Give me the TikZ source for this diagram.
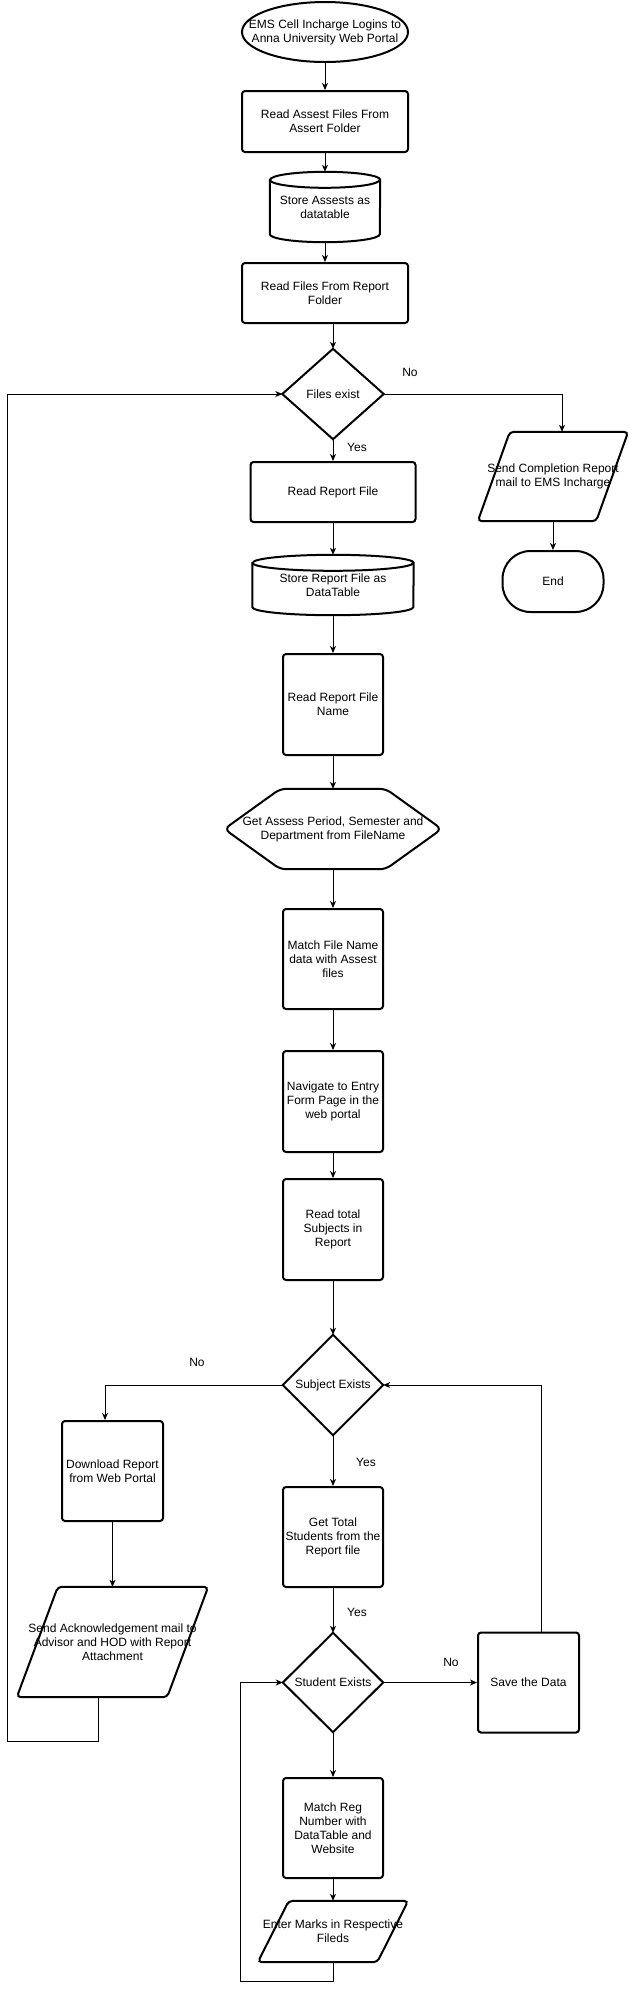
\documentclass[tikz,border=0pt]{standalone}
\usepackage{fontspec}
\setmainfont{Liberation Sans}
\usetikzlibrary{arrows.meta}
\pgfdeclarelayer{bg}
\pgfsetlayers{bg,main}
\newcommand\cylshape[2]{%
  \draw[shapeline] ([yshift=-8pt]#1.north west) -- ([yshift=8pt]#1.south west)
    arc[start angle=180, end angle=360, x radius=#2pt, y radius=8pt]
    -- ([yshift=-8pt]#1.north east)
    arc[start angle=0, end angle=180, x radius=#2pt, y radius=8pt] -- cycle;
  \draw[shapeline] ([yshift=-8pt]#1.north west)
    arc[start angle=180, end angle=360, x radius=#2pt, y radius=8pt];}
\newcommand\parashape[2]{%
  \draw[shapeline, rounded corners=4pt] ([xshift=#2pt]#1.north west) -- (#1.north east)
    -- ([xshift=-#2pt]#1.south east) -- (#1.south west) -- cycle;}
\newcommand\diashape[1]{%
  \draw[shapeline] (#1.north) -- (#1.east) -- (#1.south) -- (#1.west) -- cycle;}
\begin{document}
\begin{tikzpicture}[x=1pt,y=1pt,
  every node/.style={font=\fontsize{12}{14}\selectfont, align=center, inner sep=0pt, text=black},
  sz/.style 2 args={minimum width=#1pt, minimum height=#2pt},
  box/.style={draw, line width=2pt, rounded corners=3pt},
  shapeline/.style={line width=2pt},
  conn/.style={line width=1pt},
  arr/.style={line width=1pt, -{Stealth[length=7pt,width=6pt,inset=2pt]}},
  lbl/.style={}]
\useasboundingbox (0,0) rectangle (629,-1990);

% main column
\node[sz={166}{60}] (start) at (325,-32) {EMS Cell Incharge Logins to\\Anna University Web Portal};
\node[box, sz={166}{61}] (r1) at (325,-121.5) {Read Assest Files From\\Assert Folder};
\node[sz={110}{70}] (c1) at (325,-207) {Store Assests as\\datatable};
\node[box, sz={166}{60}] (r2) at (325,-293) {Read Files From Report\\Folder};
\node[sz={101}{90}] (d1) at (333,-394) {Files exist};
\node[box, sz={165}{60}] (r3) at (333,-492) {Read Report File};
\node[sz={161}{60}] (c2) at (333,-585) {Store Report File as\\DataTable};
\node[box, sz={100}{101}] (r4) at (333,-704.5) {Read Report File\\Name};
\node[sz={217}{80}] (hex) at (333,-829) {Get Assess Period, Semester and\\Department from FileName};
\node[box, sz={100}{100}] (r5) at (333,-959) {Match File Name\\data with Assest\\files};
\node[box, sz={100}{101}] (r6) at (333,-1101.5) {Navigate to Entry\\Form Page in the\\web portal};
\node[box, sz={100}{101}] (r7) at (333,-1229.5) {Read total\\Subjects in\\Report};
\node[sz={100}{100}] (d2) at (333,-1385) {Subject Exists};
\node[box, sz={100}{100}] (r9) at (333,-1537) {Get Total\\Students from the\\Report file};
\node[sz={100}{99}] (d3) at (333,-1682.5) {Student Exists};
\node[box, sz={100}{100}] (r11) at (333,-1828) {Match Reg\\Number with\\DataTable and\\Website};
\node[sz={150}{61}] (p2) at (333,-1931.5) {Enter Marks in Respective\\Fileds};

% right column
\node[sz={150}{89}] (p1) at (553,-476.5) {Send Completion Report\\mail to EMS Incharge};
\node[box, sz={101}{61}, rounded corners=28pt] (end) at (553,-581.5) {End};
\node[box, sz={101}{100}] (save) at (528.5,-1682.5) {Save the Data};

% left column
\node[box, sz={101}{100}] (r8) at (112.5,-1471) {Download Report\\from Web Portal};
\node[sz={191}{110}] (p3) at (112.5,-1642) {Send Acknowledgement mail to\\Advisor and HOD with Report\\Attachment};

% labels
\node[lbl] (no1) at (410,-372) {No};
\node[lbl] (yes1) at (357,-447) {Yes};
\node[lbl] (no2) at (197,-1362) {No};
\node[lbl] (yes2) at (366,-1462) {Yes};
\node[lbl] (yes3) at (357,-1612) {Yes};
\node[lbl] (no3) at (451,-1662) {No};

\coordinate (loopL) at (7,-1741);
\coordinate (loopB) at (240,-1981);

\begin{pgfonlayer}{bg}
  \fill[white] (0,0) rectangle (629,-1990);
  \draw[shapeline] (start.center) ellipse [x radius=83pt, y radius=30pt];
  \cylshape{c1}{55}
  \cylshape{c2}{80.5}
  \diashape{d1}
  \diashape{d2}
  \diashape{d3}
  \parashape{p1}{32}
  \parashape{p2}{31}
  \parashape{p3}{41}
  \draw[shapeline, rounded corners=6pt] (hex.west) -- ([xshift=56pt]hex.north west)
    -- ([xshift=-56pt]hex.north east) -- (hex.east) -- ([xshift=-56pt]hex.south east)
    -- ([xshift=56pt]hex.south west) -- cycle;
\end{pgfonlayer}

% connectors
\draw[arr] (start.south) -- (r1.north);
\draw[arr] (r1.south) -- (c1.north);
\draw[arr] (c1.south) -- (r2.north);
\draw[arr] (r2.south -| d1.north) -- (d1.north);
\draw[arr] (d1.east) -| ([xshift=9pt]p1.north);
\draw[arr] (p1.south) -- (end.north);
\draw[arr] (d1.south) -- (r3.north);
\draw[arr] (r3.south) -- (c2.north);
\draw[arr] (c2.south) -- (r4.north);
\draw[arr] (r4.south) -- (hex.north);
\draw[arr] (hex.south) -- (r5.north);
\draw[arr] (r5.south) -- (r6.north);
\draw[arr] (r6.south) -- (r7.north);
\draw[arr] (r7.south) -- (d2.north);
\draw[arr] (d2.south) -- (r9.north);
\draw[arr] (r9.south) -- (d3.north);
\draw[arr] (d3.south) -- (r11.north);
\draw[arr] (r11.south) -- (p2.north);
\draw[arr] (d3.east) -- (save.west);
\draw[arr] ([xshift=12.5pt]save.north) |- (d2.east);
\draw[arr] (d2.west) -| ([xshift=-7.5pt]r8.north);
\draw[arr] (r8.south) -- (p3.north);
\draw[arr] ([xshift=-14.5pt]p3.south) |- (loopL) |- (d1.west);
\draw[arr] (p2.south) |- (loopB) |- (d3.west);
\end{tikzpicture}
\end{document}
